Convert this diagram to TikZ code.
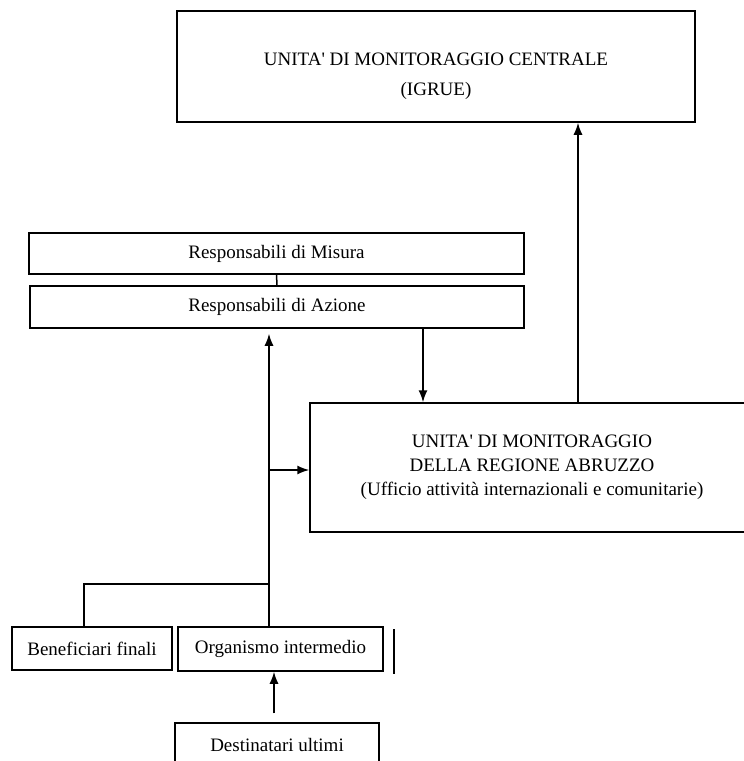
\documentclass[tikz,border=0pt]{standalone}
\usepackage{fontspec}
\setmainfont{Liberation Serif}
\usetikzlibrary{arrows.meta}
\usetikzlibrary{positioning}
\usetikzlibrary{calc}
\tikzstyle{box}=[draw,line width=1.5pt,inner sep=0pt,align=center,font=\fontsize{19}{24}\selectfont]
\tikzstyle{txt}=[inner sep=0pt,align=center,font=\fontsize{19}{24}\selectfont]
\tikzstyle{link}=[line width=1.5pt]
\tikzstyle{arr}=[line width=1.5pt,-{Latex[length=12pt,width=9pt]}]

\begin{document}
\begin{tikzpicture}[x=1pt,y=-1pt]

  \useasboundingbox (0,0) rectangle (744,761);
  \clip (0,0) rectangle (744,761);

  % boxes
  \node[box,minimum width=518pt,minimum height=111pt] (igrue) at (436,66.5) {};
  \node[txt] (igrueT) at (436,76) {UNITA\textquotesingle\ DI MONITORAGGIO CENTRALE\\[6pt](IGRUE)};

  \node[box,minimum width=495pt,minimum height=41pt] (misura) at (276.5,253.5) {Responsabili di Misura};
  \node[box,minimum width=494pt,minimum height=42pt] (azione) at (277,307) {Responsabili di Azione};

  \node[box,minimum width=444pt,minimum height=129pt] (regione) at (532,467.5)
     {UNITA\textquotesingle\ DI MONITORAGGIO\\DELLA REGIONE ABRUZZO\\(Ufficio attività internazionali e comunitarie)};

  \node[box,minimum width=160pt,minimum height=43pt] (benef) at (92,648.5) {Beneficiari finali};
  \node[box,minimum width=205pt,minimum height=44pt] (organ) at (280.5,649) {Organismo intermedio};
  \node[box,minimum width=204pt,minimum height=44pt] (dest) at (277,745) {Destinatari ultimi};

  % where the lines run
  \coordinate (jb) at (84,584);
  \coordinate (jm) at (269,584);
  \coordinate (jr) at (269,470);
  \coordinate (xd) at (423,0);
  \coordinate (xu) at (578,0);
  \coordinate (xo) at (274,0);

  \draw[link] (misura.south) -- (azione.north);
  \draw[link] (benef.north -| jb) -- (jb) -- (jm);
  \draw[arr, shorten >=5pt] (organ.north -| jm) -- (azione.south -| jm);
  \draw[arr] (jr) -- (regione.west |- jr);
  \draw[arr] (azione.south -| xd) -- (regione.north -| xd);
  \draw[arr] (regione.north -| xu) -- (igrue.south -| xu);
  \draw[arr, shorten <=9pt] (dest.north -| xo) -- (organ.south -| xo);

  \draw[link] ($(organ.north east)+(10,3)$) -- ($(organ.south east)+(10,2)$);

\end{tikzpicture}
\end{document}
